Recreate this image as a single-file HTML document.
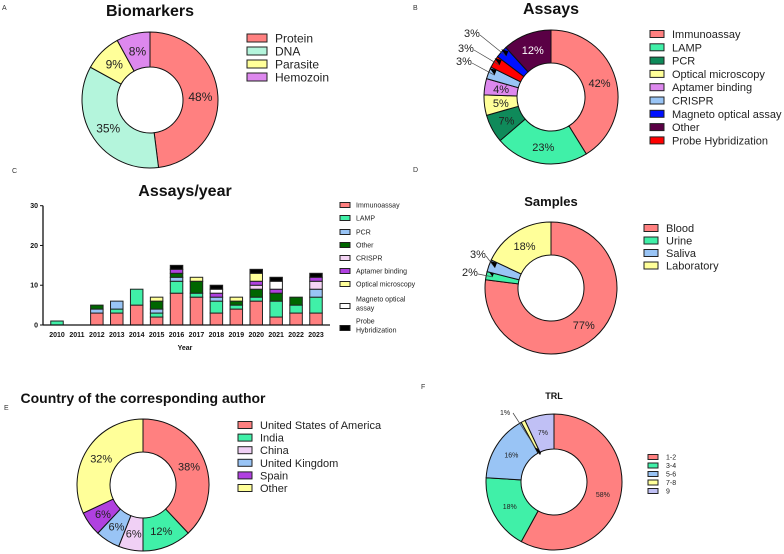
<!DOCTYPE html>
<html><head><meta charset="utf-8">
<style>
html,body{margin:0;padding:0;background:#fff;}
svg{display:block;font-family:"Liberation Sans",Arial,sans-serif;}
</style></head>
<body>
<svg id="fig" width="784" height="554" viewBox="0 0 784 554" xmlns="http://www.w3.org/2000/svg">
<g font-size="7" fill="#333">
<text x="2" y="10">A</text>
<text x="413" y="10">B</text>
<text x="12" y="173">C</text>
<text x="413" y="172">D</text>
<text x="4" y="410">E</text>
<text x="421" y="389">F</text>
</g>
<g font-weight="bold" text-anchor="middle" fill="#111">
<text x="150" y="16" font-size="16">Biomarkers</text>
<text x="551" y="14" font-size="16">Assays</text>
<text x="185" y="196" font-size="16">Assays/year</text>
<text x="551" y="206" font-size="13">Samples</text>
<text x="143" y="403" font-size="14">Country of the corresponding author</text>
<text x="554" y="399" font-size="9">TRL</text>
</g>
<g id="charts"></g>
</svg>
<script>
// ---- Donut data ----
const bioLabels = ["Protein","DNA","Parasite","Hemozoin"];
const bioValues = [48,35,9,8];
const assayLabels = ["Immunoassay","LAMP","PCR","Optical microscopy","Aptamer binding","CRISPR","Probe Hybridization","Magneto optical assay","Other"];
const assayValues = [42,23,7,5,4,3,3,3,12];
const assayLegend = ["Immunoassay","LAMP","PCR","Optical microscopy","Aptamer binding","CRISPR","Magneto optical assay","Other","Probe Hybridization"];
const sampleLabels = ["Blood","Urine","Saliva","Laboratory"];
const sampleValues = [77,2,3,18];
const countryLabels = ["United States of America","India","China","United Kingdom","Spain","Other"];
const countryValues = [38,12,6,6,6,32];
const trlLabels = ["1-2","3-4","5-6","7-8","9"];
const trlValues = [58,18,16,1,7];

// ---- Bar data ----
const years = ["2010","2011","2012","2013","2014","2015","2016","2017","2018","2019","2020","2021","2022","2023"];
const barSeries = ["Immunoassay","LAMP","PCR","Other","CRISPR","Aptamer binding","Optical microscopy","Magneto optical assay","Probe Hybridization"];
const immunoVals  = [0,0,3,3,5,2,8,7,3,4,6,2,3,3];
const lampVals    = [1,0,0,1,4,1,3,1,3,1,1,4,2,4];
const pcrVals     = [0,0,1,2,0,1,1,0,1,0,0,0,0,2];
const otherVals   = [0,0,1,0,0,2,1,3,0,1,2,2,2,0];
const crisprVals  = [0,0,0,0,0,0,0,0,0,0,1,0,0,2];
const aptamerVals = [0,0,0,0,0,0,1,0,1,0,1,1,0,1];
const opticalVals = [0,0,0,0,0,1,0,1,0,1,2,0,0,0];
const magnetoVals = [0,0,0,0,0,0,0,0,1,0,0,2,0,0];
const probeVals   = [0,0,0,0,0,0,1,0,1,0,1,1,0,1];
const yTicks = [0,10,20,30];

const NS="http://www.w3.org/2000/svg";
const root=document.getElementById('charts');
function mk(tag,attrs,parent){const e=document.createElementNS(NS,tag);for(const k in attrs)e.setAttribute(k,attrs[k]);(parent||root).appendChild(e);return e;}

function donut(name,cx,cy,R,r,values,colors,labels,fs,opts){
  const g=mk('g',{});
  
  
  const tot=values.reduce((a,b)=>a+b,0);
  let a0=-Math.PI/2;
  values.forEach((v,i)=>{
    const a1=a0+v/tot*2*Math.PI;
    const large=(a1-a0)>Math.PI?1:0;
    const p=(rad,a)=>[cx+rad*Math.cos(a),cy+rad*Math.sin(a)];
    const [x0,y0]=p(R,a0),[x1,y1]=p(R,a1),[x2,y2]=p(r,a1),[x3,y3]=p(r,a0);
    const path=mk('path',{d:`M${x0},${y0}A${R},${R} 0 ${large} 1 ${x1},${y1}L${x2},${y2}A${r},${r} 0 ${large} 0 ${x3},${y3}Z`,fill:colors[i],stroke:'#111','stroke-width':1},g);
    
    
    const am=(a0+a1)/2;
    const ext=opts&&opts.ext&&opts.ext[i];
    let tx,ty;
    if(ext){tx=ext[0];ty=ext[1];
      const [ax,ay]=p((R+r)/2+ (opts.inset||0),am);
      mk('line',{x1:tx+8,y1:ty-2,x2:ax,y2:ay,stroke:'#444','stroke-width':0.7},g);
      mk('path',{d:`M${ax},${ay} l-5,-7 l7,2 z`,fill:'#000'},g);
    } else {
      const [mx,my]=p((R+r)/2,am);tx=mx;ty=my+fs*0.35;
    }
    const fillc=(opts&&opts.light&&opts.light[i])?'#fff':'#222';
    const t=mk('text',{x:tx,y:ty,'text-anchor':'middle','font-size':fs,fill:fillc},g);
    t.textContent=values[i]+'%';
    
    
    a0=a1;
  });
}
function legend(name,x,y,dy,labels,colors,fs,sw,sh){
  const g=mk('g',{});
  
  
  labels.forEach((l,i)=>{
    const yy=y+i*dy;
    const s=mk('rect',{x:x,y:yy-sh/2,width:sw,height:sh,fill:colors[i],stroke:'#222','stroke-width':1},g);
    
    
    const t=mk('text',{x:x+sw+8,y:yy+fs*0.36,'font-size':fs,fill:'#222'},g);
    t.textContent=l;
    
    
  });
}
const RED='#ff8080',AQUA='#b4f5dc',YEL='#ffff99',MAG='#dd88ee',LAMP='#40f0a8',PCR='#0f8a5a',CRI='#99c4f5',MAGN='#0010ff',OTH='#5a0045',PRB='#ff0000';

donut('biomarkers',150,100,68,33,bioValues,[RED,AQUA,YEL,MAG],bioLabels,12);
legend('biomarkers',247,38,13,bioLabels,[RED,AQUA,YEL,MAG],12,20,8);

const aCols=[RED,LAMP,PCR,YEL,MAG,CRI,PRB,MAGN,OTH];
donut('assays',551,97,67,34,assayValues,aCols,assayLabels,11,{ext:{5:[464,65],6:[466,52],7:[472,37]},inset:10,light:{8:true}});
legend('assays',650,34,13.3,assayLegend,[RED,LAMP,PCR,YEL,MAG,CRI,MAGN,OTH,PRB],11,14,7);

donut('samples',551,288,66,33,sampleValues,[RED,LAMP,CRI,YEL],sampleLabels,11,{ext:{1:[470,276],2:[478,258]},inset:10});
legend('samples',644,228,12.5,sampleLabels,[RED,LAMP,CRI,YEL],11,14,7);

const cCols=[RED,LAMP,'#f0d0f5',CRI,'#b040e0',YEL];
donut('country',143,485,66,33,countryValues,cCols,countryLabels,11);
legend('country',238,425,12.6,countryLabels,cCols,11,14,7);

const tCols=[RED,LAMP,CRI,YEL,'#c0c0f5'];
donut('trl',554,482,68,33,trlValues,tCols,trlLabels,7,{ext:{3:[505,415]},inset:-20});
legend('trl',648,457,8.5,trlLabels,tCols,7,10,5);

// ---- Bar chart ----
(function(){
  const g=mk('g',{});
  
  
  const x0=43,x1=330,yBase=325,yTop=205.7,yMax=30;
  const ys=v=>yBase-(v/yMax)*(yBase-yTop);
  const step=(316-57)/(years.length-1);
  const xs=i=>57+i*step;
  const bw=12.5;
  const seriesVals=[immunoVals,lampVals,pcrVals,otherVals,crisprVals,aptamerVals,opticalVals,magnetoVals,probeVals];
  const bCols=[RED,LAMP,CRI,'#006600','#f5d5f5','#b040e0',YEL,'#ffffff','#000000'];
  years.forEach((yr,i)=>{
    let acc=0;
    seriesVals.forEach((sv,k)=>{
      const v=sv[i]; if(!v) return;
      const r=mk('rect',{x:xs(i)-bw/2,y:ys(acc+v),width:bw,height:ys(acc)-ys(acc+v),fill:bCols[k],stroke:'#222','stroke-width':1},g);
      
      
      acc+=v;
    });
    const t=mk('text',{x:xs(i),y:yBase+12,'text-anchor':'middle','font-size':7,'font-weight':'bold',fill:'#111'},g);
    t.textContent=yr;
    
    
  });
  mk('line',{x1:x0,y1:yTop,x2:x0,y2:yBase,stroke:'#111','stroke-width':1.3},g);
  mk('line',{x1:x0,y1:yBase,x2:x1,y2:yBase,stroke:'#111','stroke-width':1.3},g);
  yTicks.forEach(v=>{
    mk('line',{x1:x0-3,y1:ys(v),x2:x0,y2:ys(v),stroke:'#111','stroke-width':1},g);
    const t=mk('text',{x:x0-5,y:ys(v)+2.5,'text-anchor':'end','font-size':7,'font-weight':'bold',fill:'#111'},g);
    t.textContent=v;
    
    
  });
  const xt=mk('text',{x:185,y:350,'text-anchor':'middle','font-size':7,'font-weight':'bold',fill:'#111'},g);
  xt.textContent='Year';
  
  
  const legY=[205,218,232,245,258,271,284,306,328];
  const legLab=["Immunoassay","LAMP","PCR","Other","CRISPR","Aptamer binding","Optical microscopy",["Magneto optical","assay"],["Probe","Hybridization"]];
  legLab.forEach((lab,j)=>{
    const yy=legY[j];
    const s=mk('rect',{x:340,y:yy-2.5,width:10,height:5,fill:bCols[j],stroke:'#222','stroke-width':1},g);
    
    
    if(Array.isArray(lab)){
      lab.forEach((l,m)=>{const t=mk('text',{x:356,y:yy-7+m*9+2.5,'font-size':7,fill:'#222'},g);t.textContent=l;
        
        });
    } else {
      const t=mk('text',{x:356,y:yy+2.5,'font-size':7,fill:'#222'},g);t.textContent=lab;
      
      
    }
  });
})();
</script>
</body></html>
